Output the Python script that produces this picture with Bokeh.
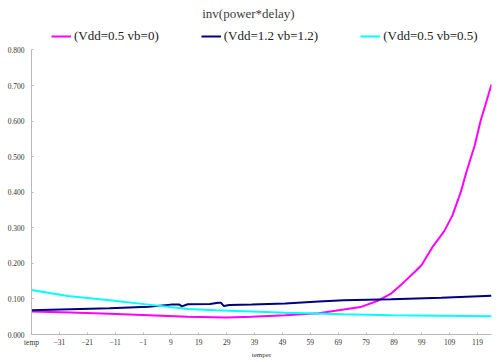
from bokeh.plotting import figure
from bokeh.models import Range1d, FixedTicker, Legend, LegendItem, Label, PrintfTickFormatter
from bokeh.embed import file_html
from bokeh.resources import INLINE

title_text = "inv(power*delay)"
x_label = "temper"
first_category = "temp"
x_tick_values = [-41, -31, -21, -11, -1, 9, 19, 29, 39, 49, 59, 69, 79, 89, 99, 109, 119]
y_tick_values = [0.0, 0.1, 0.2, 0.3, 0.4, 0.5, 0.6, 0.7, 0.8]

series_names = ["(Vdd=0.5 vb=0)", "(Vdd=1.2 vb=1.2)", "(Vdd=0.5 vb=0.5)"]

temp_a = [-41, -27, -13, 1, 15, 29, 38, 50, 62, 71, 77, 83, 88, 92, 97, 99, 103, 107, 110, 113, 115, 118, 120, 124]
vals_a = [0.065, 0.062, 0.058, 0.054, 0.050, 0.048, 0.050, 0.054, 0.060, 0.070, 0.077, 0.094, 0.115, 0.143, 0.180,
          0.196, 0.248, 0.290, 0.335, 0.401, 0.457, 0.532, 0.598, 0.703]

temp_b = [-41, -13, 1, 9, 12, 13, 15, 23, 26, 27, 28, 30, 38, 50, 62, 71, 88, 106, 124]
vals_b = [0.068, 0.074, 0.078, 0.084, 0.084, 0.079, 0.085, 0.086, 0.089, 0.089, 0.080, 0.083, 0.084, 0.087,
          0.093, 0.096, 0.099, 0.103, 0.109]

temp_c = [-41, -28, -13, 1, 15, 25, 38, 50, 71, 88, 124]
vals_c = [0.125, 0.108, 0.096, 0.084, 0.072, 0.068, 0.065, 0.061, 0.057, 0.054, 0.051]

colors = ["#FF00FF", "#000080", "#00FFFF"]
serif = "Liberation Serif"

p = figure(width=500, height=362, output_backend="svg", toolbar_location=None,
           x_range=Range1d(-41, 124), y_range=Range1d(0, 0.939),
           min_border_left=31, min_border_right=9, min_border_top=0, min_border_bottom=28)
p.outline_line_color = None
p.xgrid.visible = False
p.ygrid.visible = False
p.background_fill_color = "white"
p.border_fill_color = "white"

renderers = []
for xs, ys, c in zip([temp_a, temp_b, temp_c], [vals_a, vals_b, vals_c], colors):
    renderers.append(p.line(xs, ys, line_color=c, line_width=2))

# axes
p.yaxis.ticker = FixedTicker(ticks=y_tick_values)
p.yaxis.formatter = PrintfTickFormatter(format="%.3f")
p.yaxis.bounds = (0, 0.8)
p.xaxis.ticker = FixedTicker(ticks=x_tick_values)
p.xaxis.major_label_overrides = {x_tick_values[0]: first_category}
p.xaxis.axis_label = x_label
p.xaxis.axis_label_text_font = serif
p.xaxis.axis_label_text_font_size = "7px"
p.xaxis.axis_label_text_font_style = "normal"
p.xaxis.axis_label_text_color = "#333333"
p.xaxis.axis_label_standoff = 1
for ax in (p.xaxis, p.yaxis):
    ax.axis_line_color = "#b8b8b8"
    ax.major_tick_line_color = "#b8b8b8"
    ax.minor_tick_line_color = None
    ax.major_tick_in = 2
    ax.major_tick_out = 0
    ax.major_label_text_font = serif
    ax.major_label_text_font_size = "7.5px"
    ax.major_label_text_color = "#333333"
p.yaxis.major_label_standoff = 7
p.xaxis.major_label_standoff = 3

legend = Legend(items=[LegendItem(label=n, renderers=[r]) for n, r in zip(series_names, renderers)],
                orientation="horizontal", location=(20, 290), spacing=42,
                glyph_width=20, glyph_height=14, label_height=14, label_standoff=3,
                padding=0, margin=0, border_line_color=None, background_fill_alpha=0,
                label_text_font=serif, label_text_font_size="13px", label_text_color="#222222")
p.add_layout(legend)

p.add_layout(Label(x=36.8, y=0.9027, text=title_text, text_align="center", text_baseline="middle",
                   text_font=serif, text_font_size="13px", text_color="#404040"))

open("out.html", "w").write(file_html(p, INLINE))
